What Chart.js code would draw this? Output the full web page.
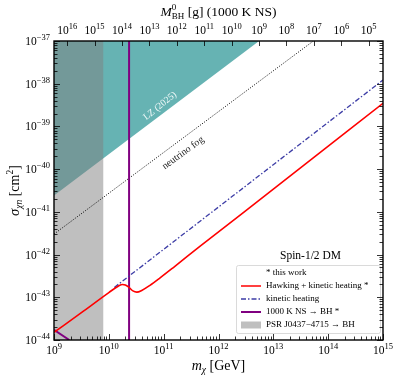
<!DOCTYPE html>
<html>
<head>
<meta charset="utf-8">
<script src="https://cdn.jsdelivr.net/npm/chart.js"></script>
<style>
  body { margin: 0; background: #fff; }
  #caja { width: 397px; height: 377px; }
</style>
</head>
<body>
<div id="caja"><canvas id="grafico" width="397" height="377"></canvas></div>
<script>
// ====================================
// DATOS
// ====================================

// Hawking + kinetic heating (rojo)
const masaRoja = [1e9, 3.16e9, 1e10, 1.48e10, 1.78e10, 2.0e10, 2.34e10, 2.75e10, 3.24e10, 3.98e10, 5.62e10, 8.5e10, 1.58e11, 4.57e11, 1e13, 1e15];
const sigmaRoja = [1.51e-44, 4.37e-44, 1.29e-43, 1.82e-43, 2.0e-43, 1.95e-43, 1.70e-43, 1.41e-43, 1.32e-43, 1.445e-43, 1.905e-43, 2.82e-43, 5.25e-43, 1.55e-42, 3.39e-41, 3.47e-39];

// kinetic heating (azul, raya-punto)
const masaAzul = [1.26e10, 1e15];
const sigmaAzul = [1.7e-43, 1.22e-38];

// 1000 K NS -> BH (morado): vertical + diagonal abajo a la izquierda
const masaMoradoV = [2.34e10, 2.34e10];
const sigmaMoradoV = [1e-44, 1e-37];
const masaMoradoD = [1e9, 1.9e9];
const sigmaMoradoD = [1.74e-44, 1e-44];

// neutrino fog (punteado)
const masaNiebla = [1e9, 5.37e13];
const sigmaNiebla = [3.02e-42, 1e-37];

// LZ (2025) region excluida
const masaLZ = [1e9, 5.5e12, 1e15];
const sigmaLZ = [2.4e-41, 1e-37, 1e-37];

// PSR J0437-4715 -> BH
const masaPSR = [1e9, 8.0e9];
const sigmaPSR = [1e-37, 1e-37];

// Etiquetas de ejes (exponentes)
const expX = [9, 10, 11, 12, 13, 14, 15];
const expY = [-44, -43, -42, -41, -40, -39, -38, -37];
const expM = [16, 15, 14, 13, 12, 11, 10, 9, 8, 7, 6, 5];

// Leyenda
const leyenda = [
    { texto: '* this work', tipo: 'nada' },
    { texto: 'Hawking + kinetic heating *', tipo: 'linea', color: '#ff0000', ancho: 1.5, dash: [] },
    { texto: 'kinetic heating', tipo: 'linea', color: '#3d3da6', ancho: 1.3, dash: [5, 2, 1.5, 2] },
    { texto: '1000 K NS \u2192 BH *', tipo: 'linea', color: '#800080', ancho: 2, dash: [] },
    { texto: 'PSR J0437\u22124715 \u2192 BH', tipo: 'caja', color: '#bfbfbf' }
];

const FUENTE = '"Liberation Serif", "DejaVu Serif", serif';

const puntos = (xs, ys) => xs.map((x, i) => ({ x: x, y: ys[i] }));

// ====================================
// TEXTO CON SUB/SUPERINDICES
// ====================================

function fuente(p) {
    return (p.italic ? 'italic ' : '') + p.size + 'px ' + FUENTE;
}

function anchoRico(ctx, partes) {
    let cx = 0, ini = 0, prevW = 0;
    partes.forEach(p => {
        ctx.font = fuente(p);
        const w = ctx.measureText(p.t).width;
        if (p.overlap) {
            cx = ini + Math.max(prevW, w);
        } else {
            ini = cx; prevW = w; cx += w;
        }
    });
    return cx;
}

function dibujarRico(ctx, partes, x, y, align) {
    const total = anchoRico(ctx, partes);
    let cx = x;
    if (align === 'center') cx = x - total / 2;
    if (align === 'right') cx = x - total;
    let ini = cx, prevW = 0;
    ctx.textAlign = 'left';
    ctx.textBaseline = 'alphabetic';
    partes.forEach(p => {
        ctx.font = fuente(p);
        const w = ctx.measureText(p.t).width;
        if (p.overlap) {
            ctx.fillText(p.t, ini, y + (p.dy || 0));
            cx = ini + Math.max(prevW, w);
        } else {
            ctx.fillText(p.t, cx, y + (p.dy || 0));
            ini = cx; prevW = w; cx += w;
        }
    });
}

function potencia(e) {
    const s = String(e).replace('-', '\u2212');
    return [{ t: '10', size: 11.5 }, { t: s, size: 8.5, dy: -5 }];
}

// ====================================
// PLUGIN: ejes, ticks, leyenda, textos
// ====================================

const pluginDecorado = {
    id: 'decorado',
    afterDraw(chart) {
        const ctx = chart.ctx;
        const { left, right, top, bottom } = chart.chartArea;
        const sx = chart.scales.x, sy = chart.scales.y, sm = chart.scales.x2;
        ctx.save();

        // Anotaciones dentro del grafico
        ctx.save();
        ctx.translate(160, 106);
        ctx.rotate(-39 * Math.PI / 180);
        ctx.fillStyle = '#f4fbfb';
        ctx.font = '9.5px ' + FUENTE;
        ctx.textAlign = 'center';
        ctx.textBaseline = 'middle';
        ctx.fillText('LZ (2025)', 0, 0);
        ctx.restore();

        ctx.save();
        ctx.translate(183, 153);
        ctx.rotate(-36 * Math.PI / 180);
        ctx.fillStyle = '#222';
        ctx.font = '10px ' + FUENTE;
        ctx.textAlign = 'center';
        ctx.textBaseline = 'middle';
        ctx.fillText('neutrino fog', 0, 0);
        ctx.restore();

        ctx.fillStyle = '#000';
        ctx.font = '11.5px ' + FUENTE;
        ctx.textAlign = 'left';
        ctx.textBaseline = 'alphabetic';
        ctx.fillText('Spin-1/2 DM', 280, 259);

        // Leyenda
        const lx = 236, ly = 265, lw = 144, lh = 68;
        ctx.fillStyle = 'rgba(255,255,255,0.85)';
        ctx.strokeStyle = '#d0d0d0';
        ctx.lineWidth = 0.8;
        ctx.beginPath();
        ctx.roundRect(lx + 0.5, ly + 0.5, lw, lh, 2);
        ctx.fill();
        ctx.stroke();
        leyenda.forEach((item, i) => {
            const yy = ly + 8 + i * 13;
            if (item.tipo === 'linea') {
                ctx.strokeStyle = item.color;
                ctx.lineWidth = item.ancho;
                ctx.setLineDash(item.dash);
                ctx.beginPath();
                ctx.moveTo(241, yy);
                ctx.lineTo(261, yy);
                ctx.stroke();
                ctx.setLineDash([]);
            } else if (item.tipo === 'caja') {
                ctx.fillStyle = item.color;
                ctx.fillRect(241, yy - 3.5, 20, 7);
            }
            ctx.fillStyle = '#000';
            ctx.font = '9px ' + FUENTE;
            ctx.textAlign = 'left';
            ctx.textBaseline = 'middle';
            ctx.fillText(item.texto, 266, yy);
        });

        // Marco
        ctx.strokeStyle = '#000';
        ctx.lineWidth = 1.4;
        ctx.strokeRect(left, top, right - left, bottom - top);

        // Ticks hacia dentro
        ctx.lineWidth = 0.8;
        ctx.beginPath();
        for (let e = 9; e <= 15; e++) {
            for (let k = 1; k <= 9; k++) {
                const v = k * Math.pow(10, e);
                if (v > 1.0001e15) break;
                const px = Math.round(sx.getPixelForValue(v)) + 0.5;
                const largo = k === 1 ? 6 : 3.5;
                ctx.moveTo(px, bottom);
                ctx.lineTo(px, bottom - largo);
            }
        }
        for (let e = -44; e <= -37; e++) {
            for (let k = 1; k <= 9; k++) {
                const v = k * Math.pow(10, e);
                if (v > 1.0001e-37) break;
                const py = Math.round(sy.getPixelForValue(v)) + 0.5;
                const largo = k === 1 ? 6 : 3.5;
                ctx.moveTo(left, py);
                ctx.lineTo(left + largo, py);
                ctx.moveTo(right, py);
                ctx.lineTo(right - largo, py);
            }
        }
        expM.forEach(e => {
            const px = Math.round(sm.getPixelForValue(Math.pow(10, e))) + 0.5;
            ctx.moveTo(px, top);
            ctx.lineTo(px, top + 5);
        });
        ctx.stroke();

        // Etiquetas de ticks
        ctx.fillStyle = '#000';
        expX.forEach(e => {
            dibujarRico(ctx, potencia(e), sx.getPixelForValue(Math.pow(10, e)), 354, 'center');
        });
        expY.forEach(e => {
            dibujarRico(ctx, potencia(e), left - 4, sy.getPixelForValue(Math.pow(10, e)) + 4, 'right');
        });
        expM.forEach(e => {
            dibujarRico(ctx, potencia(e), sm.getPixelForValue(Math.pow(10, e)), 33.5, 'center');
        });

        // Titulos de ejes
        dibujarRico(ctx, [
            { t: 'M', size: 13.5, italic: true },
            { t: '0', size: 9, dy: -6 },
            { t: 'BH', size: 9, dy: 3, overlap: true },
            { t: ' [g] (1000 K NS)', size: 13.5 }
        ], (left + right) / 2, 16, 'center');

        dibujarRico(ctx, [
            { t: 'm', size: 14, italic: true },
            { t: '\u03c7', size: 9.5, dy: 3, italic: true },
            { t: ' [GeV]', size: 14 }
        ], (left + right) / 2, 370, 'center');

        ctx.save();
        ctx.translate(18.5, (top + bottom) / 2);
        ctx.rotate(-Math.PI / 2);
        dibujarRico(ctx, [
            { t: '\u03c3', size: 14.5, italic: true },
            { t: '\u03c7n', size: 9.5, dy: 3, italic: true },
            { t: ' [cm', size: 14 },
            { t: '2', size: 9.5, dy: -5.5 },
            { t: ']', size: 14 }
        ], 0, 0, 'center');
        ctx.restore();

        ctx.restore();
    }
};

// ====================================
// GRAFICO
// ====================================

function renderGrafico() {
    const ctx = document.getElementById('grafico').getContext('2d');
    new Chart(ctx, {
        type: 'line',
        data: {
            datasets: [
                {
                    data: puntos(masaLZ, sigmaLZ),
                    borderWidth: 0,
                    backgroundColor: 'rgba(0,128,128,0.6)',
                    fill: 'end',
                    pointRadius: 0,
                    order: 10
                },
                {
                    data: puntos(masaPSR, sigmaPSR),
                    borderWidth: 0,
                    backgroundColor: 'rgba(128,128,128,0.5)',
                    fill: 'start',
                    pointRadius: 0,
                    order: 9
                },
                {
                    data: puntos(masaNiebla, sigmaNiebla),
                    borderColor: '#000',
                    borderWidth: 1,
                    borderDash: [1, 1.6],
                    pointRadius: 0,
                    fill: false,
                    order: 8
                },
                {
                    data: puntos(masaMoradoV, sigmaMoradoV),
                    borderColor: '#800080',
                    borderWidth: 2,
                    pointRadius: 0,
                    fill: false,
                    order: 6
                },
                {
                    data: puntos(masaMoradoD, sigmaMoradoD),
                    borderColor: '#800080',
                    borderWidth: 2,
                    pointRadius: 0,
                    fill: false,
                    order: 5
                },
                {
                    data: puntos(masaAzul, sigmaAzul),
                    borderColor: '#3d3da6',
                    borderWidth: 1.3,
                    borderDash: [5, 2, 1.5, 2],
                    pointRadius: 0,
                    fill: false,
                    order: 4
                },
                {
                    data: puntos(masaRoja, sigmaRoja),
                    borderColor: '#ff0000',
                    borderWidth: 1.6,
                    cubicInterpolationMode: 'monotone',
                    pointRadius: 0,
                    fill: false,
                    order: 3
                }
            ]
        },
        options: {
            responsive: false,
            animation: false,
            devicePixelRatio: 1,
            layout: { padding: { left: 54, top: 41, right: 14, bottom: 37 } },
            plugins: {
                legend: { display: false },
                tooltip: { enabled: false }
            },
            scales: {
                x: { type: 'logarithmic', display: false, min: 1e9, max: 1e15 },
                x2: { type: 'logarithmic', display: false, position: 'top', reverse: true, min: Math.pow(10, 4.48), max: Math.pow(10, 16.48) },
                y: { type: 'logarithmic', display: false, min: 1e-44, max: 1e-37 }
            }
        },
        plugins: [pluginDecorado]
    });
}

renderGrafico();
</script>
</body>
</html>
